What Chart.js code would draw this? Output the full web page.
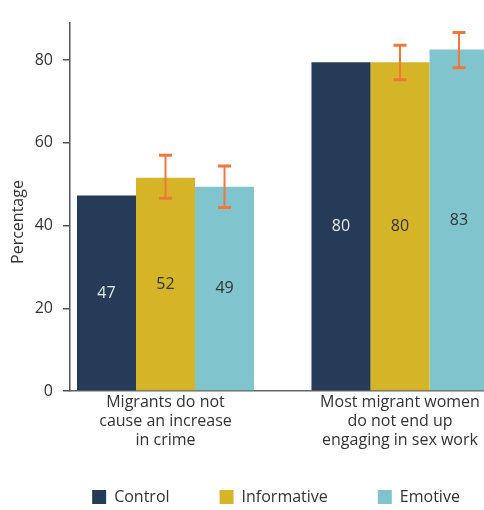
<!DOCTYPE html>
<html>
<head>
    <title>Percentage agreeing, by message</title>
    <meta charset="utf-8" />
    <script src="https://cdn.jsdelivr.net/npm/chart.js"></script>
    <style>
        html, body { margin: 0; padding: 0; background: #fff; }
        .chart-container { width: 484px; height: 510px; }
    </style>
</head>
<body>
    <div class="chart-container">
        <canvas id="barChart"></canvas>
    </div>

    <script>
        // 질문 항목 (줄바꿈 포함)
        const categories = [
            ['Migrants do not', 'cause an increase', 'in crime'],
            ['Most migrant women', 'do not end up', 'engaging in sex work']
        ];
        const seriesNames = ['Control', 'Informative', 'Emotive'];
        const controlValues = [47.3, 79.5];
        const informativeValues = [51.6, 79.5];
        const emotiveValues = [49.4, 82.6];
        // 오차 막대 (하한 / 상한)
        const informativeLow = [46.6, 75.3];
        const informativeHigh = [57.0, 83.6];
        const emotiveLow = [44.4, 78.2];
        const emotiveHigh = [54.4, 86.7];
        const yTicks = [0, 20, 40, 60, 80];

        const font = '"Open Sans", sans-serif';
        const textColor = '#333';

        const toPoints = vals => vals.map((v, i) => ({ x: i, y: v }));

        // 막대 안의 값 표시 + 오차 막대
        const barExtras = {
            id: 'barExtras',
            afterDatasetsDraw(chart) {
                const ctx = chart.ctx;
                const yScale = chart.scales.y;
                ctx.save();
                chart.data.datasets.forEach((ds, di) => {
                    const meta = chart.getDatasetMeta(di);
                    meta.data.forEach((bar, i) => {
                        const v = ds.data[i].y;
                        ctx.fillStyle = ds.labelColor;
                        ctx.font = '16px ' + font;
                        ctx.textAlign = 'center';
                        ctx.textBaseline = 'middle';
                        ctx.fillText(Math.round(v), bar.x, yScale.getPixelForValue(v / 2));

                        if (ds.errLow) {
                            const top = yScale.getPixelForValue(ds.errHigh[i]);
                            const bottom = yScale.getPixelForValue(ds.errLow[i]);
                            ctx.strokeStyle = '#f3773a';
                            ctx.lineWidth = 2;
                            ctx.beginPath();
                            ctx.moveTo(bar.x, top);
                            ctx.lineTo(bar.x, bottom);
                            ctx.stroke();
                            ctx.lineWidth = 3;
                            ctx.beginPath();
                            ctx.moveTo(bar.x - 6.5, top);
                            ctx.lineTo(bar.x + 6.5, top);
                            ctx.moveTo(bar.x - 6.5, bottom);
                            ctx.lineTo(bar.x + 6.5, bottom);
                            ctx.stroke();
                        }
                    });
                });
                ctx.restore();
            }
        };

        // y축 제목 (축 가운데보다 약간 아래)
        const yTitle = {
            id: 'yTitle',
            afterDraw(chart) {
                const ctx = chart.ctx;
                ctx.save();
                ctx.translate(18, 222);
                ctx.rotate(-Math.PI / 2);
                ctx.fillStyle = textColor;
                ctx.font = '16px ' + font;
                ctx.textAlign = 'center';
                ctx.textBaseline = 'middle';
                ctx.fillText('Percentage', 0, 0);
                ctx.restore();
            }
        };

        // 범례: 높이 고정 후 위치 보정
        const legendShift = {
            id: 'legendShift',
            beforeLayout(chart) {
                const lg = chart.legend;
                if (!lg._fixedFit) {
                    const fit = lg.fit;
                    lg.fit = function () {
                        fit.call(this);
                        this.height = 57;
                    };
                    lg._fixedFit = true;
                }
            },
            afterLayout(chart) {
                const lg = chart.legend;
                const dx = 34, dy = -14;
                lg.left += dx; lg.right += dx;
                lg.top += dy;
                lg.bottom = chart.height;
            }
        };

        const ctx = document.getElementById('barChart').getContext('2d');
        const barChart = new Chart(ctx, {
            type: 'bar',
            data: {
                datasets: [{
                    label: seriesNames[0],
                    data: toPoints(controlValues),
                    backgroundColor: '#263b58',
                    labelColor: '#e8e8e8'
                }, {
                    label: seriesNames[1],
                    data: toPoints(informativeValues),
                    backgroundColor: '#d6b428',
                    labelColor: textColor,
                    errLow: informativeLow,
                    errHigh: informativeHigh
                }, {
                    label: seriesNames[2],
                    data: toPoints(emotiveValues),
                    backgroundColor: '#80c4ce',
                    labelColor: textColor,
                    errLow: emotiveLow,
                    errHigh: emotiveHigh
                }]
            },
            options: {
                responsive: true,
                maintainAspectRatio: false,
                animation: false,
                categoryPercentage: 0.755,
                barPercentage: 1.0,
                layout: { padding: { top: 23, left: 0, right: 0, bottom: 0 } },
                scales: {
                    x: {
                        type: 'linear',
                        min: -0.4073,
                        max: 1.3582,
                        offset: false,
                        bounds: 'data',
                        grid: { display: false, drawTicks: false },
                        border: { color: '#666', width: 1.5 },
                        afterBuildTicks: axis => {
                            axis.ticks = categories.map((c, i) => ({ value: i }));
                        },
                        afterFit: axis => {
                            axis.paddingLeft = 0;
                            axis.paddingRight = 0;
                            axis.height = 62;
                        },
                        ticks: {
                            minRotation: 0,
                            maxRotation: 0,
                            autoSkip: false,
                            padding: 2,
                            color: textColor,
                            font: { family: font, size: 16, lineHeight: 1.19 },
                            callback: v => categories[v]
                        }
                    },
                    y: {
                        min: 0,
                        max: 89,
                        afterBuildTicks: axis => {
                            axis.ticks = yTicks.map(v => ({ value: v }));
                        },
                        afterFit: axis => {
                            axis.width = 70;
                            axis.paddingTop = 0;
                        },
                        grid: {
                            drawOnChartArea: false,
                            tickLength: 7,
                            color: '#555',
                            lineWidth: 1.5
                        },
                        border: { color: '#555', width: 1.5 },
                        ticks: {
                            padding: 10,
                            color: textColor,
                            font: { family: font, size: 16 }
                        }
                    }
                },
                plugins: {
                    tooltip: { enabled: false },
                    legend: {
                        position: 'bottom',
                        labels: {
                            boxWidth: 14,
                            boxHeight: 14,
                            padding: 50,
                            color: textColor,
                            font: { family: font, size: 16 }
                        }
                    }
                }
            },
            plugins: [barExtras, yTitle, legendShift]
        });
    </script>
</body>
</html>
